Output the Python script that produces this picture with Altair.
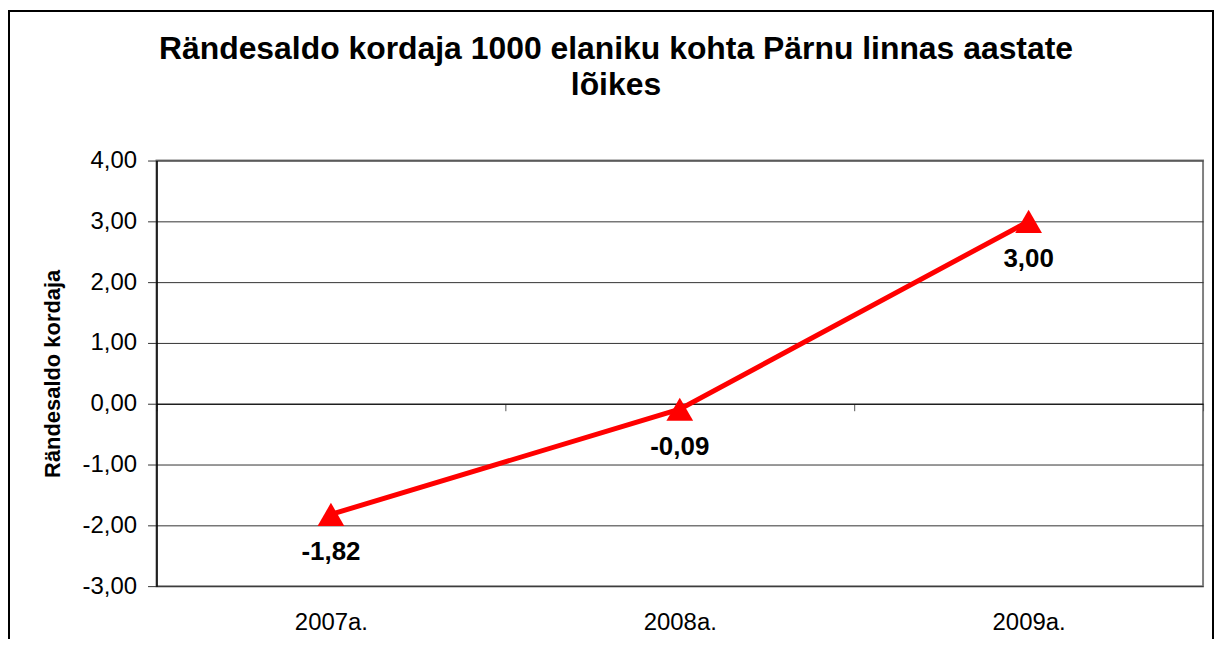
import altair as alt
import pandas as pd

years = ["2007a.", "2008a.", "2009a."]
values = [-1.82, -0.09, 3.00]
labels = [f"{v:.2f}".replace(".", ",") for v in values]

df = pd.DataFrame({"year": years, "value": values, "label": labels})

FONT = "Liberation Sans"

x_enc = alt.X(
    "year:N",
    sort=years,
    scale=alt.Scale(type="band", paddingInner=0, paddingOuter=0),
    axis=alt.Axis(
        title=None,
        orient="bottom",
        offset=-183,
        domain=True,
        domainColor="#000000",
        domainWidth=1,
        ticks=True,
        tickSize=7,
        tickColor="#555555",
        tickWidth=1,
        tickBand="extent",
        labelPadding=201,
        labelFontSize=24,
        labelFont=FONT,
        labelColor="#000000",
        labelAngle=0,
        grid=False,
    ),
)

y_enc = alt.Y(
    "value:Q",
    scale=alt.Scale(domain=[-3, 4], nice=False, zero=False),
    axis=alt.Axis(
        title="Rändesaldo kordaja",
        titleFont=FONT,
        titleFontSize=22,
        titleFontWeight="bold",
        titleColor="#000000",
        titlePadding=18,
        values=[-3, -2, -1, 0, 1, 2, 3, 4],
        labelExpr="replace(replace(format(datum.value, '.2f'), '.', ','), '\u2212', '-')",
        labelFont=FONT,
        labelFontSize=24,
        labelColor="#000000",
        labelPadding=11,
        tickSize=9,
        tickColor="#333333",
        domainColor="#000000",
        domainWidth=1.5,
        grid=True,
        gridColor="#333333",
        gridWidth=1,
    ),
)

base = alt.Chart(df)

line = base.mark_line(color="#FF0000", strokeWidth=5).encode(x=x_enc, y=y_enc)

points = base.mark_point(
    shape="triangle-up", size=720, filled=True, color="#FF0000", opacity=1
).encode(x=alt.X("year:N", sort=years), y="value:Q")

text = base.mark_text(
    font=FONT, fontSize=26, fontWeight="bold", color="#000000", dy=38, baseline="middle"
).encode(x=alt.X("year:N", sort=years), y="value:Q", text="label:N")

frame = base.mark_rect(fill="transparent", stroke="#000000", strokeWidth=2).encode(
    x=alt.value(-148), x2=alt.value(1060), y=alt.value(-150), y2=alt.value(600)
)

chart = (
    alt.layer(line, points, text, frame)
    .properties(
        width=1050,
        height=427,
        autosize=alt.AutoSizeParams(type="none"),
        padding={"left": 149, "top": 152, "right": 12, "bottom": 52},
        background="#FFFFFF",
        title=alt.TitleParams(
            text=["Rändesaldo kordaja 1000 elaniku kohta Pärnu linnas aastate", "lõikes"],
            font=FONT,
            fontSize=32,
            fontWeight="bold",
            color="#000000",
            anchor="middle",
            frame="group",
            dx=-64,
            offset=-92,
            lineHeight=36,
        ),
    )
    .configure_view(stroke="#808080", strokeWidth=2)
)

chart.save("out.html", embed_options={"renderer": "svg", "actions": False})
